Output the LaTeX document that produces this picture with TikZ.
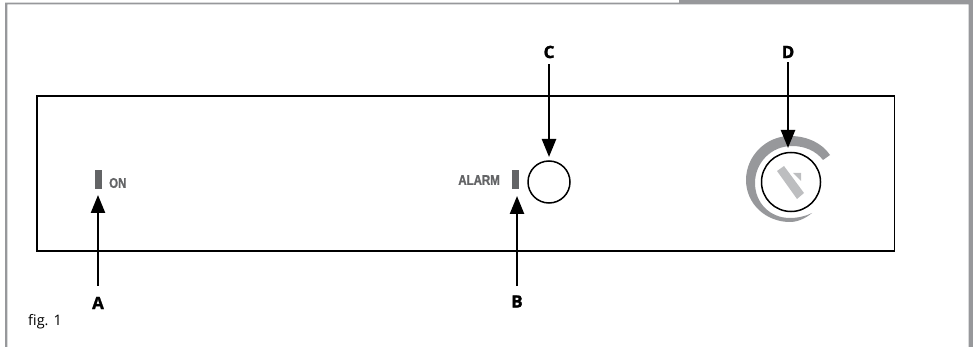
\documentclass[tikz,border=0pt]{standalone}
\usepackage{fontspec}
\setmainfont{Open Sans}
\newfontfamily\narrowf[FakeStretch=0.82,FakeBold=1.2]{Liberation Sans Bold}
\newfontfamily\heavyf[FakeBold=1.5]{Open Sans Bold}
\usetikzlibrary{arrows.meta}
\definecolor{framegrey}{HTML}{97989B}
\definecolor{ledgrey}{HTML}{636466}
\definecolor{keygrey}{HTML}{BDBEC0}
\tikzset{
  callout/.style={line width=2.4pt,black,-{Triangle[length=18pt,width=14pt]}},
  letter/.style={font=\fontsize{17}{17}\heavyf,inner sep=0pt,text=black},
  led/.style={fill=ledgrey,draw=none,minimum width=7pt,minimum height=19pt,inner sep=0pt},
  ledtext/.style={font=\fontsize{14}{14}\narrowf,text=ledgrey,inner sep=0pt},
  dial/.style={circle,draw=black,line width=1.5pt,inner sep=0pt},
}
\begin{document}
\begin{tikzpicture}[x=1pt,y=-1pt]
\useasboundingbox (0,0) rectangle (973,347);
\fill[framegrey] (679,0) rectangle (973,4);
\fill[framegrey] (5,347) -- (5,2.7) -- (973,2.7) -- (973,347) -- (968.5,347) -- (968.5,4.3) -- (7.3,4.3) -- (7.3,347) -- cycle;
\node[draw=black,line width=1.5pt,minimum width=857.5pt,minimum height=154.5pt,inner sep=0pt,anchor=north west] (panel) at (36,95.5) {};
% grey crescent ring
\fill[framegrey] (830,155)
  .. controls (822,143) and (807,136) .. (790,136)
  .. controls (766,136) and (746,156) .. (746,180)
  .. controls (746,204) and (766,222) .. (790,222)
  .. controls (798,222) and (806,218) .. (812,213)
  .. controls (806,216) and (798,218) .. (790,218)
  .. controls (770,218) and (755,203) .. (755,183)
  .. controls (755,163) and (771,146) .. (792,146)
  .. controls (805,146) and (816,151) .. (823,160)
  -- cycle;
\node[led] (ledA) at (98.5,179.5) {};
\node[led] (ledB) at (515.5,179.5) {};
\node[ledtext,anchor=west] (on) at (109,183) {ON};
\node[ledtext,anchor=east] (alarm) at (500,180) {ALARM};
\node[dial,minimum size=42pt] (btn) at (549,182) {};
\node[dial,minimum size=59pt] (key) at (791,182) {};
\fill[keygrey] (777,171) -- (784,166) -- (804,193) -- (797,199) -- cycle;
\fill[keygrey] (793,173) -- (801,173) -- (801,181) -- cycle;
\node[letter] (A) at (98,303) {A};
\node[letter] (B) at (517,301.5) {B};
\node[letter] (C) at (549,52) {C};
\node[letter] (D) at (788,52) {D};
\node[font=\fontsize{14.5}{14.5}\selectfont,inner sep=0pt,anchor=west] (fig) at (28,322) {fig. 1};
\coordinate (tipA) at (98,195);
\coordinate (tipB) at (517,196);
\coordinate (tipC) at (549,157);
\coordinate (tipD) at (788,148);
\draw[callout] (A.north) ++(0,-11) -- (tipA);
\draw[callout] (B.north) ++(0,-9) -- (tipB);
\draw[callout] (C.south) ++(0,6) -- (tipC);
\draw[callout] (D.south) ++(0,4) -- (tipD);
\end{tikzpicture}
\end{document}
